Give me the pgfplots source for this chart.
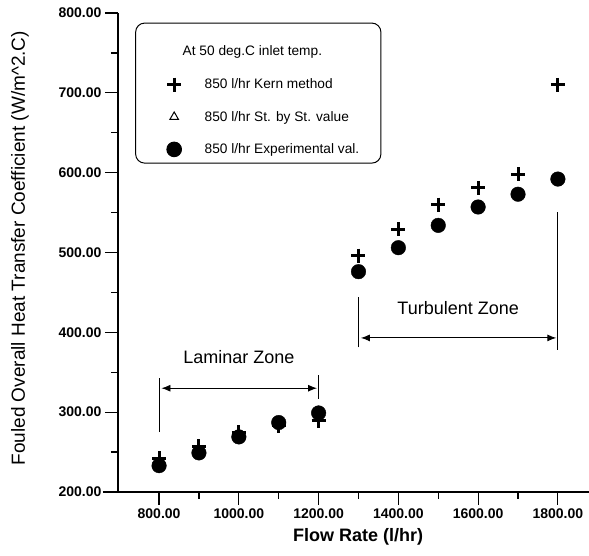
\documentclass[border=0pt]{standalone}
\usepackage{fontspec}
\setmainfont{Liberation Sans}
\usepackage{pgfplots}
\pgfplotsset{compat=1.18}
\usetikzlibrary{arrows.meta}
\begin{document}
\begin{tikzpicture}
\begin{axis}[
  scale only axis, width=471pt, height=479pt,
  xmin=697, xmax=1878, ymin=200, ymax=800,
  axis lines=left,
  axis line style={-, line width=1.3pt},
  x axis line style={shorten <=-15pt},
  xtick={800,1000,...,1800}, ytick={200,300,...,800},
  minor x tick num=1, minor y tick num=1,
  tick align=outside, major tick length=13pt, minor tick length=7pt,
  every tick/.style={black, line width=1.2pt},
  ticklabel style={font=\fontsize{14}{16}\selectfont\bfseries},
  /pgf/number format/.cd, fixed, fixed zerofill, precision=2, 1000 sep={}, assume math mode=true, /pgfplots/.cd,
  xlabel={\bfseries Flow Rate (l/hr)},
  ylabel={Fouled Overall Heat Transfer Coefficient (W/m\textasciicircum 2.C)},
  every axis x label/.style={at={(rel axis cs:0.51,-0.094)}, anchor=center, font=\fontsize{18}{20}\selectfont},
  every axis y label/.style={at={(rel axis cs:-0.208,0.509)}, anchor=center, rotate=90, font=\fontsize{19}{21}\selectfont},
  legend style={at={(axis cs:740,788)}, anchor=north west, draw=black, line width=1pt,
    rounded corners=9pt, inner xsep=30pt, inner ysep=6pt, row sep=17pt,
    font=\fontsize{13.7}{15}\selectfont},
  legend cell align=left,
  clip=false,
]
\addlegendimage{draw=none, fill=none, legend image code/.code={\path[draw=none,fill=none] (0cm,-16pt) rectangle (0.6cm,8pt);}}
\addlegendentry{\hspace{-2pt}\rule{0pt}{24pt}At 50 deg.C inlet temp.}
\addplot[only marks, mark=+, mark size=7pt, line width=3pt, black] coordinates {
(800,242) (900,257) (1000,275) (1100,283) (1200,289)
(1300,496) (1400,529) (1500,560) (1600,581) (1700,598) (1800,710)};
\addlegendentry{\hspace{20pt}850 l/hr Kern method}
\addlegendimage{only marks, mark=triangle, mark size=5pt, line width=1pt, black, mark options={sharp corners}}
\addlegendentry{\hspace{20pt}850 l/hr St. by St. value}
\addplot[only marks, mark=*, mark size=7.3pt, black] coordinates {
(800,233) (900,249) (1000,269) (1100,287) (1200,299)
(1300,476) (1400,506) (1500,534) (1600,557) (1700,573) (1800,592)};
\addlegendentry{\hspace{20pt}850 l/hr Experimental val.\kern-12pt}

\draw[line width=0.8pt] (axis cs:800,275) -- (axis cs:800,343);
\draw[line width=0.8pt] (axis cs:1200,317) -- (axis cs:1200,346);
\draw[{Latex[length=9pt,width=7pt]}-{Latex[length=9pt,width=7pt]}, line width=0.9pt] (axis cs:806,330) -- (axis cs:1196,330);
\node[font=\fontsize{18}{20}\selectfont] at (axis cs:1000,369) {Laminar Zone};
\draw[line width=0.8pt] (axis cs:1300,381) -- (axis cs:1300,444);
\draw[line width=0.8pt] (axis cs:1800,378) -- (axis cs:1800,551);
\draw[{Latex[length=9pt,width=7pt]}-{Latex[length=9pt,width=7pt]}, line width=0.9pt] (axis cs:1306,393) -- (axis cs:1796,393);
\node[font=\fontsize{18}{20}\selectfont] at (axis cs:1550,431) {Turbulent Zone};
\coordinate (ll) at (rel axis cs:0,0);
\coordinate (ur) at (rel axis cs:1,1);
\end{axis}
\pgfresetboundingbox
\path ([shift={(-118pt,-64pt)}]ll) rectangle ([shift={(0pt,13pt)}]ur);
\end{tikzpicture}
\end{document}
